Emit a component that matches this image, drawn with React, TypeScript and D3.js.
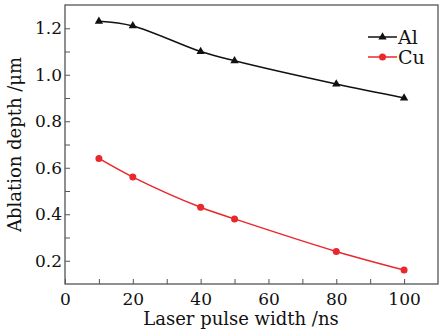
import * as d3 from 'd3'
import { useEffect, useRef } from 'react'

const pulseWidth = [10, 20, 40, 50, 80, 100]
const alDepth = [1.23, 1.21, 1.1, 1.06, 0.96, 0.9]
const cuDepth = [0.64, 0.56, 0.43, 0.38, 0.24, 0.16]
const xTicks = [0, 20, 40, 60, 80, 100]
const yTicks = [0.2, 0.4, 0.6, 0.8, 1.0, 1.2]

const App = () => {
  const ref = useRef<SVGSVGElement>(null)

  useEffect(() => {
    if (!ref.current) return
    const svg = d3.select(ref.current)
    svg.selectAll('*').remove()

    const width = 446
    const height = 329
    const margin = { top: 5, right: 8, bottom: 45, left: 65 }
    const font = 'DejaVu Serif, Liberation Serif, serif'
    const axisColor = '#555'

    const x = d3.scaleLinear().domain([0, 110]).range([margin.left, width - margin.right])
    const y = d3.scaleLinear().domain([0.1, 1.3]).range([height - margin.bottom, margin.top])

    // frame
    svg.append('rect')
      .attr('x', margin.left)
      .attr('y', margin.top)
      .attr('width', width - margin.left - margin.right)
      .attr('height', height - margin.top - margin.bottom)
      .attr('fill', 'none')
      .attr('stroke', axisColor)
      .attr('stroke-width', 1.3)

    // x axis, ticks pointing inward
    const xAxis = d3.axisBottom(x)
      .tickValues(d3.range(0, 110, 10))
      .tickSize(-5)
      .tickFormat(d => (xTicks.includes(+d) ? String(d) : ''))
    const gx = svg.append('g')
      .attr('transform', `translate(0,${height - margin.bottom})`)
      .call(xAxis)
    gx.attr('font-family', font).attr('font-size', 17)
    gx.select('.domain').remove()
    gx.selectAll('line').attr('stroke', axisColor)
    gx.selectAll('text')
      .attr('dy', 0)
      .attr('y', 21)
      .attr('fill', '#111')

    // y axis
    const yAxis = d3.axisLeft(y)
      .tickValues(d3.range(0.2, 1.3, 0.1).map(v => +v.toFixed(1)))
      .tickSize(-5)
      .tickFormat(d => (yTicks.some(t => Math.abs(t - +d) < 1e-6) ? d3.format('.1f')(+d) : ''))
    const gy = svg.append('g')
      .attr('transform', `translate(${margin.left},0)`)
      .call(yAxis)
    gy.attr('font-family', font).attr('font-size', 17)
    gy.select('.domain').remove()
    gy.selectAll('line').attr('stroke', axisColor)
    gy.selectAll('text')
      .attr('x', -3)
      .attr('fill', '#111')

    // axis titles
    svg.append('text')
      .attr('x', 241)
      .attr('y', height - 4)
      .attr('text-anchor', 'middle')
      .attr('font-family', font)
      .attr('font-size', 18)
      .attr('fill', '#111')
      .text('Laser pulse width /ns')

    svg.append('text')
      .attr('transform', `translate(21,${(margin.top + height - margin.bottom) / 2}) rotate(-90)`)
      .attr('text-anchor', 'middle')
      .attr('font-family', font)
      .attr('font-size', 18)
      .attr('fill', '#111')
      .text('Ablation depth /μm')

    const line = d3.line<number>()
      .x((_, i) => x(pulseWidth[i]))
      .y(d => y(d))
      .curve(d3.curveCatmullRom)

    // Al series
    svg.append('path')
      .datum(alDepth)
      .attr('fill', 'none')
      .attr('stroke', '#111')
      .attr('stroke-width', 1.5)
      .attr('d', line)
    const tri = d3.symbol().type(d3.symbolTriangle).size(30)
    svg.selectAll('.al-pt')
      .data(alDepth)
      .enter()
      .append('path')
      .attr('class', 'al-pt')
      .attr('transform', (d, i) => `translate(${x(pulseWidth[i])},${y(d)})`)
      .attr('d', tri)
      .attr('fill', '#111')

    // Cu series
    svg.append('path')
      .datum(cuDepth)
      .attr('fill', 'none')
      .attr('stroke', '#e8282c')
      .attr('stroke-width', 1.5)
      .attr('d', line)
    svg.selectAll('.cu-pt')
      .data(cuDepth)
      .enter()
      .append('circle')
      .attr('class', 'cu-pt')
      .attr('cx', (_, i) => x(pulseWidth[i]))
      .attr('cy', d => y(d))
      .attr('r', 3.5)
      .attr('fill', '#e8282c')

    // legend
    const legendItems = [
      { label: 'Al', color: '#111', type: 'tri' },
      { label: 'Cu', color: '#e8282c', type: 'circle' }
    ]
    const legend = svg.append('g').attr('transform', 'translate(368,37)')
    legendItems.forEach((d, i) => {
      const item = legend.append('g').attr('transform', `translate(0,${i * 20})`)
      item.append('line')
        .attr('x1', 0)
        .attr('x2', 29)
        .attr('stroke', d.color)
        .attr('stroke-width', 1.5)
      if (d.type === 'tri') {
        item.append('path').attr('transform', 'translate(14.5,0)').attr('d', tri).attr('fill', d.color)
      } else {
        item.append('circle').attr('cx', 14.5).attr('r', 3.5).attr('fill', d.color)
      }
      item.append('text')
        .attr('x', 30)
        .attr('dy', '0.35em')
        .attr('font-family', font)
        .attr('font-size', 19)
        .attr('fill', '#111')
        .text(d.label)
    })
  }, [])

  return (
    <svg
      ref={ref}
      width={446}
      height={329}
      style={{ position: 'absolute', left: 0, top: 0, background: '#fff' }}
    />
  )
}

export default App
